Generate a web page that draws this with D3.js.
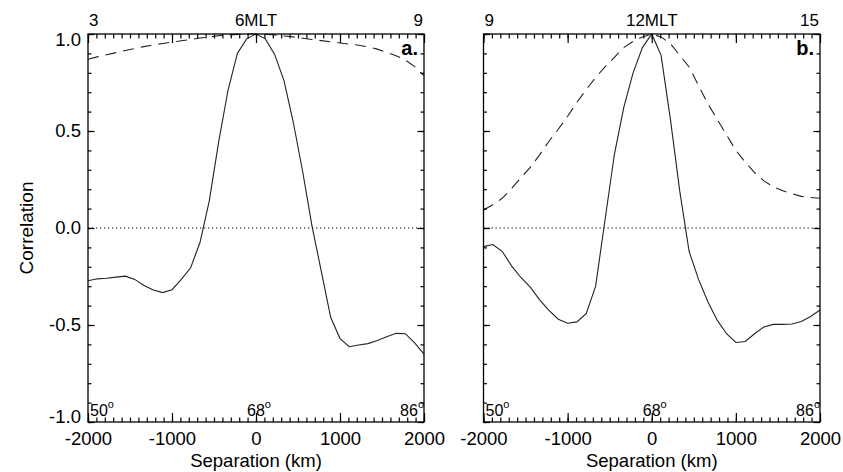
<!DOCTYPE html>
<html>
<head>
<meta charset="utf-8">
<script src="https://cdn.jsdelivr.net/npm/d3@7.9.0/dist/d3.min.js"></script>
<style>
  html, body { margin: 0; padding: 0; background: #fff; }
  svg { display: block; font-family: 'Liberation Sans', Arial, sans-serif; }
  .axis path.domain { display: none; }
  .axis line { stroke: #000; stroke-width: 1.2; }
  .axis text { font-size: 18.5px; fill: #000; }
  .lbl { font-size: 19px; fill: #000; }
</style>
</head>
<body>
<svg id="chart" width="843" height="472"></svg>
<script>
// separation grid, 1 degree of latitude (~111 km) per sample, 50..86 deg
const separation = [
  -2000, -1889, -1778, -1667, -1556, -1444, -1333, -1222, -1111, -1000,
  -889, -778, -667, -556, -444, -333, -222, -111, 0,
  111, 222, 333, 444, 556, 667, 778, 889, 1000,
  1111, 1222, 1333, 1444, 1556, 1667, 1778, 1889, 2000,
];

// panel a (6 MLT)
const solidA = [
  -0.272, -0.262, -0.259, -0.253, -0.248, -0.265, -0.296, -0.32, -0.333, -0.318,
  -0.265, -0.205, -0.075, 0.14, 0.445, 0.71, 0.9, 0.975, 1.0,
  0.975, 0.895, 0.76, 0.545, 0.29, 0.01, -0.225, -0.46, -0.57,
  -0.612, -0.603, -0.596, -0.58, -0.56, -0.543, -0.545, -0.592, -0.65,
];
const dashedA = [
  0.87, 0.882, 0.893, 0.904, 0.915, 0.925, 0.935, 0.944, 0.951, 0.958,
  0.965, 0.972, 0.979, 0.985, 0.991, 0.995, 0.998, 1.0, 1.0,
  0.999, 0.995, 0.99, 0.985, 0.978, 0.972, 0.966, 0.96, 0.954,
  0.948, 0.942, 0.934, 0.922, 0.905, 0.888, 0.866, 0.832, 0.785,
];

// panel b (12 MLT)
const solidB = [
  -0.096, -0.085, -0.12, -0.195, -0.255, -0.305, -0.37, -0.425, -0.47, -0.491,
  -0.484, -0.44, -0.3, 0.04, 0.38, 0.62, 0.8, 0.93, 1.0,
  0.89, 0.56, 0.19, -0.12, -0.265, -0.38, -0.475, -0.545, -0.59,
  -0.585, -0.545, -0.51, -0.497, -0.497, -0.495, -0.482, -0.456, -0.423,
];
const dashedB = [
  0.093, 0.12, 0.153, 0.203, 0.258, 0.313, 0.377, 0.447, 0.509, 0.576,
  0.648, 0.714, 0.776, 0.83, 0.88, 0.93, 0.962, 0.985, 1.0,
  0.985, 0.95, 0.89, 0.83, 0.735, 0.64, 0.56, 0.48, 0.4,
  0.34, 0.285, 0.243, 0.213, 0.192, 0.177, 0.163, 0.157, 0.153,
];

const xTicks = [-2000, -1000, 0, 1000, 2000];
const yTicks = [-1, -0.5, 0, 0.5, 1];
const mltLabelsA = ['3', '6MLT', '9'];
const mltLabelsB = ['9', '12MLT', '15'];
const latLabels = ['50', '68', '86'];

const svg = d3.select('#chart');
const plotTop = 34;
const plotBottom = 422;

const panels = [
  { left: 88, right: 424, solid: solidA, dashed: dashedA, mlt: mltLabelsA, name: 'a.', yLabels: true },
  { left: 483.5, right: 820, solid: solidB, dashed: dashedB, mlt: mltLabelsB, name: 'b.', yLabels: false },
];

const y = d3.scaleLinear().domain([-1, 1]).range([plotBottom, plotTop]);

// plain hyphen for negatives, like the original plot
const fmtX = (d) => String(d);
const fmtY = (d) => d.toFixed(1);

function drawPanel(p) {
  const x = d3.scaleLinear().domain([-2000, 2000]).range([p.left, p.right]);
  const g = svg.append('g');

  // zero reference
  g.append('line')
    .attr('x1', x(-2000)).attr('x2', x(2000))
    .attr('y1', y(0)).attr('y2', y(0))
    .attr('stroke', '#000').attr('stroke-width', 1)
    .attr('stroke-dasharray', '1.3,2.7');

  const line = (vals) => d3.line()
    .x((d, i) => x(separation[i]))
    .y((d) => y(d))(vals);

  g.append('path').attr('d', line(p.dashed))
    .attr('fill', 'none').attr('stroke', '#222').attr('stroke-width', 1.1)
    .attr('stroke-dasharray', '11,7');
  g.append('path').attr('d', line(p.solid))
    .attr('fill', 'none').attr('stroke', '#222').attr('stroke-width', 1.1);

  // axes, ticks pointing inwards
  const minorX = d3.range(-2000, 2001, 100);
  const minorY = d3.range(-10, 11).map((v) => v / 10);

  g.append('g').attr('class', 'axis').attr('transform', `translate(0,${plotBottom})`)
    .call(d3.axisBottom(x).tickValues(minorX).tickSize(-4.5).tickFormat(''));
  g.append('g').attr('class', 'axis').attr('transform', `translate(0,${plotBottom})`)
    .call(d3.axisBottom(x).tickValues(xTicks).tickSize(-9).tickPadding(10).tickFormat(fmtX));
  g.append('g').attr('class', 'axis').attr('transform', `translate(0,${plotTop})`)
    .call(d3.axisTop(x).tickValues(minorX).tickSize(-4.5).tickFormat(''));
  g.append('g').attr('class', 'axis').attr('transform', `translate(0,${plotTop})`)
    .call(d3.axisTop(x).tickValues(xTicks).tickSize(-9).tickFormat(''));

  g.append('g').attr('class', 'axis').attr('transform', `translate(${p.left},0)`)
    .call(d3.axisLeft(y).tickValues(minorY).tickSize(-3.5).tickFormat(''));
  const yAxis = g.append('g').attr('class', 'axis').attr('transform', `translate(${p.left},0)`)
    .call(d3.axisLeft(y).tickValues(yTicks).tickSize(-6.5).tickPadding(7)
      .tickFormat(p.yLabels ? fmtY : ''));
  // end labels sit a little inside the frame
  yAxis.selectAll('.tick text')
    .attr('transform', (d) => (d === 1 ? 'translate(0,6)' : d === -1 ? 'translate(0,-5)' : null));
  g.append('g').attr('class', 'axis').attr('transform', `translate(${p.right},0)`)
    .call(d3.axisRight(y).tickValues(minorY).tickSize(-3.5).tickFormat(''));
  g.append('g').attr('class', 'axis').attr('transform', `translate(${p.right},0)`)
    .call(d3.axisRight(y).tickValues(yTicks).tickSize(-6.5).tickFormat(''));

  g.append('rect')
    .attr('x', p.left).attr('y', plotTop)
    .attr('width', p.right - p.left).attr('height', plotBottom - plotTop)
    .attr('fill', 'none').attr('stroke', '#000').attr('stroke-width', 1.3);

  // MLT labels above
  const anchors = ['start', 'middle', 'end'];
  const offs = [1, 0, -1];
  p.mlt.forEach((t, i) => {
    g.append('text').attr('font-size', 17)
      .attr('x', x(xTicks[i * 2]) + offs[i]).attr('y', 26)
      .attr('text-anchor', anchors[i]).text(t);
  });

  // latitude labels inside, bottom
  latLabels.forEach((t, i) => {
    const tx = g.append('text').attr('font-size', 16)
      .attr('x', x(xTicks[i * 2]) + [2, 3, 0][i]).attr('y', 416)
      .attr('text-anchor', anchors[i]);
    tx.append('tspan').text(t);
    tx.append('tspan').attr('font-size', 11).attr('dy', -8).text('o');
  });

  g.append('text')
    .attr('x', x(2000) - 6).attr('y', 55)
    .attr('text-anchor', 'end')
    .attr('font-size', 20).attr('font-weight', 'bold')
    .text(p.name);

  g.append('text')
    .attr('font-size', 18.5)
    .attr('x', x(0)).attr('y', 467)
    .attr('text-anchor', 'middle')
    .text('Separation (km)');
}

panels.forEach(drawPanel);

svg.append('text').attr('class', 'lbl')
  .attr('transform', `translate(33,${y(0)}) rotate(-90)`)
  .attr('text-anchor', 'middle')
  .text('Correlation');
</script>
</body>
</html>
